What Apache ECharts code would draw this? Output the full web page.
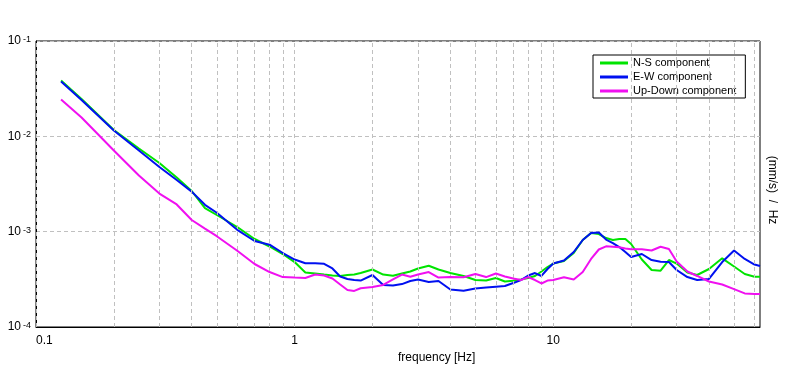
<!DOCTYPE html>
<html>
<head>
<meta charset="utf-8">
<script src="https://cdn.jsdelivr.net/npm/echarts@6/dist/echarts.min.js"></script>
<style>html,body{margin:0;padding:0;background:#fff;}#c{width:796px;height:370px;}</style>
</head>
<body>
<div id="c"></div>
<script>
const freqs = [0.125, 0.15, 0.2, 0.25, 0.3, 0.35, 0.4, 0.45, 0.5, 0.6, 0.7, 0.8, 0.9, 1.0, 1.1, 1.2, 1.3, 1.4, 1.5, 1.6, 1.7, 1.8, 2.0, 2.2, 2.4, 2.6, 2.8, 3.0, 3.3, 3.6, 4.0, 4.5, 5.0, 5.5, 6.0, 6.5, 7.0, 7.5, 8.0, 8.5, 9.0, 9.5, 10, 11, 12, 13, 14, 15, 16, 17, 18, 19, 20, 22, 24, 26, 28, 30, 33, 36, 40, 45, 50, 55, 60, 63];
const nsValues = [0.0385, 0.0246, 0.01165, 7.45e-3, 5.25e-3, 3.70e-3, 2.67e-3, 1.77e-3, 1.496e-3, 1.119e-3, 8.38e-4, 6.99e-4, 5.83e-4, 4.80e-4, 3.73e-4, 3.64e-4, 3.55e-4, 3.47e-4, 3.43e-4, 3.51e-4, 3.55e-4, 3.68e-4, 4.01e-4, 3.55e-4, 3.45e-4, 3.64e-4, 3.82e-4, 4.11e-4, 4.39e-4, 4.01e-4, 3.68e-4, 3.43e-4, 3.11e-4, 3.07e-4, 3.27e-4, 3.00e-4, 3.06e-4, 3.15e-4, 3.27e-4, 3.43e-4, 3.82e-4, 4.26e-4, 4.63e-4, 4.92e-4, 5.97e-4, 8.18e-4, 9.68e-4, 9.45e-4, 8.58e-4, 8.18e-4, 8.38e-4, 8.38e-4, 7.42e-4, 5.10e-4, 3.96e-4, 3.90e-4, 5.04e-4, 4.63e-4, 3.73e-4, 3.51e-4, 4.06e-4, 5.25e-4, 4.31e-4, 3.60e-4, 3.37e-4, 3.37e-4];
const ewValues = [0.0376, 0.0240, 0.01151, 7.10e-3, 4.77e-3, 3.48e-3, 2.63e-3, 1.913e-3, 1.58e-3, 1.046e-3, 7.98e-4, 7.30e-4, 5.97e-4, 5.10e-4, 4.66e-4, 4.66e-4, 4.60e-4, 4.11e-4, 3.39e-4, 3.19e-4, 3.11e-4, 3.07e-4, 3.51e-4, 2.76e-4, 2.72e-4, 2.82e-4, 3.04e-4, 3.15e-4, 2.96e-4, 3.04e-4, 2.47e-4, 2.40e-4, 2.53e-4, 2.60e-4, 2.65e-4, 2.69e-4, 2.89e-4, 3.11e-4, 3.47e-4, 3.68e-4, 3.43e-4, 4.06e-4, 4.63e-4, 4.98e-4, 6.12e-4, 8.18e-4, 9.68e-4, 9.80e-4, 8.27e-4, 7.60e-4, 6.90e-4, 6.12e-4, 5.42e-4, 5.83e-4, 5.04e-4, 4.84e-4, 4.80e-4, 3.96e-4, 3.34e-4, 3.11e-4, 3.19e-4, 4.80e-4, 6.34e-4, 5.17e-4, 4.52e-4, 4.36e-4];
const udValues = [0.0243, 0.01576, 7.10e-3, 3.88e-3, 2.51e-3, 1.93e-3, 1.325e-3, 1.077e-3, 8.96e-4, 6.31e-4, 4.58e-4, 3.77e-4, 3.34e-4, 3.30e-4, 3.27e-4, 3.55e-4, 3.47e-4, 3.23e-4, 2.79e-4, 2.44e-4, 2.39e-4, 2.55e-4, 2.63e-4, 2.76e-4, 3.15e-4, 3.55e-4, 3.37e-4, 3.55e-4, 3.77e-4, 3.30e-4, 3.34e-4, 3.32e-4, 3.60e-4, 3.34e-4, 3.64e-4, 3.39e-4, 3.23e-4, 3.11e-4, 3.34e-4, 3.11e-4, 2.86e-4, 3.07e-4, 3.11e-4, 3.32e-4, 3.15e-4, 3.77e-4, 5.17e-4, 6.50e-4, 7.02e-4, 6.96e-4, 6.87e-4, 6.66e-4, 6.53e-4, 6.54e-4, 6.34e-4, 6.95e-4, 6.58e-4, 4.86e-4, 3.82e-4, 3.43e-4, 3.00e-4, 2.79e-4, 2.50e-4, 2.25e-4, 2.22e-4, 2.22e-4];
const seriesNames = ['N-S component', 'E-W component', 'Up-Down component'];
const gridFreqs = [0.1, 0.2, 0.3, 0.4, 0.5, 0.6, 0.7, 0.8, 0.9, 1, 2, 3, 4, 5, 6, 7, 8, 9, 10, 20, 30, 40, 50, 60];
const xTickLabels = {'-1': '0.1', '0': '1', '1': '10'};

const FONT = '"Liberation Sans", Arial, sans-serif';
const colors = ['#00e400', '#0010f0', '#f010f0'];
const zip = vals => freqs.map((f, i) => [f, vals[i]]);

const chart = echarts.init(document.getElementById('c'), null, {renderer: 'canvas'});
chart.setOption({
  animation: false,
  backgroundColor: '#fff',
  textStyle: {fontFamily: FONT},
  grid: {left: 36, right: 36, top: 41, bottom: 43, show: true, borderColor: '#000', borderWidth: 1, backgroundColor: 'transparent'},
  legend: {
    data: seriesNames,
    orient: 'vertical',
    left: 593, top: 55,
    padding: [1, 9, 0, 7],
    itemGap: 0,
    itemWidth: 28, itemHeight: 3,
    icon: 'rect',
    borderColor: '#000', borderWidth: 1, backgroundColor: '#fff',
    textStyle: {fontFamily: FONT, fontSize: 11, color: '#000', lineHeight: 14}
  },
  xAxis: {
    type: 'log', logBase: 10, min: 0.1, max: 63,
    name: 'frequency [Hz]', nameLocation: 'middle', nameGap: 15,
    nameTextStyle: {fontFamily: FONT, fontSize: 12, color: '#000', align: 'left', verticalAlign: 'top'},
    axisLine: {show: true, lineStyle: {color: '#000', width: 1}},
    axisTick: {show: false},
    splitLine: {show: false},
    axisLabel: {
      fontFamily: FONT, fontSize: 12, color: '#000', margin: 8, showMaxLabel: false, alignMinLabel: 'left',
      formatter: v => { const e = Math.round(Math.log10(v)); return xTickLabels[String(e)] || ''; }
    }
  },
  yAxis: {
    type: 'log', logBase: 10, min: 0.0001, max: 0.1,
    axisLine: {show: true, lineStyle: {color: '#000', width: 1}},
    axisTick: {show: false},
    splitLine: {show: true, showMinLine: false, showMaxLine: false, lineStyle: {color: '#c0c0c0', type: [4, 3], width: 1}},
    axisLabel: {
      margin: 5,
      formatter: v => '{b|10}{s|' + Math.round(Math.log10(v)) + '}',
      rich: {
        b: {fontFamily: FONT, fontSize: 12, color: '#000', lineHeight: 12, padding: [0, 2, 0, 0]},
        s: {fontFamily: FONT, fontSize: 9, color: '#000', lineHeight: 9, verticalAlign: 'top'}
      }
    }
  },
  graphic: [{
    type: 'text', x: 772, y: 190, rotation: -Math.PI / 2,
    style: {text: '(mm/s)  /  Hz', fontFamily: FONT, fontSize: 12, fill: '#000', align: 'center', verticalAlign: 'middle'}
  }],
  series: [
    {
      name: 'grid', type: 'line', data: [], z: 1, silent: true,
      markLine: {
        silent: true, symbol: ['none', 'none'], label: {show: false}, animation: false,
        lineStyle: {color: '#c0c0c0', type: [4, 3], width: 1},
        data: gridFreqs.map(f => ({xAxis: f}))
      }
    },
    {name: seriesNames[0], type: 'line', data: zip(nsValues), showSymbol: false, symbol: 'none', z: 3, color: colors[0], lineStyle: {color: colors[0], width: 2}},
    {name: seriesNames[1], type: 'line', data: zip(ewValues), showSymbol: false, symbol: 'none', z: 4, color: colors[1], lineStyle: {color: colors[1], width: 2}},
    {name: seriesNames[2], type: 'line', data: zip(udValues), showSymbol: false, symbol: 'none', z: 5, color: colors[2], lineStyle: {color: colors[2], width: 2}}
  ]
});
</script>
</body>
</html>
